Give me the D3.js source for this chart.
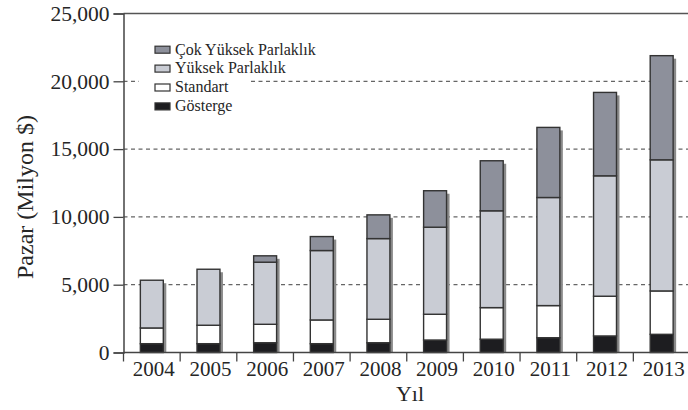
<!DOCTYPE html>
<html>
<head>
<meta charset="utf-8">
<script src="https://cdn.jsdelivr.net/npm/d3@7"></script>
<style>
  html, body { margin: 0; padding: 0; background: #ffffff; }
  svg { display: block; }
</style>
</head>
<body>
<svg id="chart" width="688" height="410"></svg>
<script>
// Market size by display brightness class (million $)
const years = ["2004","2005","2006","2007","2008","2009","2010","2011","2012","2013"];
const gosterge   = [650, 650, 720, 650, 720, 920, 980, 1090, 1220, 1340];
const standart   = [1160, 1360, 1360, 1750, 1730, 1900, 2330, 2370, 2930, 3200];
const yuksek     = [3520, 4130, 4580, 5120, 5950, 6420, 7140, 7970, 8880, 9670];
const cokYuksek  = [0, 0, 470, 1030, 1750, 2690, 3690, 5170, 6150, 7680];
const seriesNames = ["Gösterge", "Standart", "Yüksek Parlaklık", "Çok Yüksek Parlaklık"];
const yTicks = [0, 5000, 10000, 15000, 20000, 25000];

// pick the first installed Times-like family
function pickFont(list) {
  const ctx = document.createElement("canvas").getContext("2d");
  const sample = "Çok Yüksek Parlaklık 25,000 mmmWWiil";
  ctx.font = "40px monospace";
  const base = ctx.measureText(sample).width;
  for (const f of list) {
    ctx.font = `40px "${f}", monospace`;
    if (Math.abs(ctx.measureText(sample).width - base) > 0.5) return `"${f}", serif`;
  }
  return "serif";
}
const serif = pickFont(["Liberation Serif", "Times New Roman", "Tinos", "Nimbus Roman", "DejaVu Serif", "Noto Serif"]);

const colors = {
  "Gösterge": "#1d1d20",
  "Standart": "#ffffff",
  "Yüksek Parlaklık": "#c9ccd4",
  "Çok Yüksek Parlaklık": "#8d909b"
};

const rows = years.map((yr, i) => ({
  year: yr,
  "Gösterge": gosterge[i],
  "Standart": standart[i],
  "Yüksek Parlaklık": yuksek[i],
  "Çok Yüksek Parlaklık": cokYuksek[i]
}));

const svg = d3.select("#chart").attr("font-family", serif);
const mLeft = 123.5, mRight = 690, mTop = 13.5, mBottom = 352.5;
const ink = "#262626";

const x = d3.scaleBand().domain(years).range([mLeft, mRight])
  .paddingInner(0.595).paddingOuter(0.2975);
const y = d3.scaleLinear().domain([0, 25000]).range([mBottom, mTop]);

// gridlines
svg.append("g").selectAll("line")
  .data(yTicks.filter(t => t > 0 && t < 25000))
  .join("line")
  .attr("x1", mLeft).attr("x2", mRight)
  .attr("y1", d => y(d)).attr("y2", d => y(d))
  .attr("stroke", "#666").attr("stroke-width", 1.2)
  .attr("stroke-dasharray", "4,3.5");

// solid top rule
svg.append("line")
  .attr("x1", mLeft).attr("x2", mRight)
  .attr("y1", y(25000)).attr("y2", y(25000))
  .attr("stroke", "#555").attr("stroke-width", 1.5);

// stacked bars
const stack = d3.stack().keys(seriesNames)(rows);
const barG = svg.append("g");
const bw = x.bandwidth();
const total = d => seriesNames.reduce((s, k) => s + d[k], 0);

// drop shadow on the right side of each bar
barG.selectAll("rect.shadow")
  .data(rows)
  .join("rect")
  .attr("class", "shadow")
  .attr("x", d => x(d.year) + bw)
  .attr("width", 3)
  .attr("y", d => y(total(d)) + 3)
  .attr("height", d => mBottom - y(total(d)) - 3)
  .attr("fill", "#8a8a8a");

stack.forEach(layer => {
  barG.append("g").selectAll("rect")
    .data(layer.filter(d => d[1] - d[0] > 0))
    .join("rect")
    .attr("x", d => x(d.data.year))
    .attr("width", bw)
    .attr("y", d => y(d[1]))
    .attr("height", d => y(d[0]) - y(d[1]))
    .attr("fill", colors[layer.key])
    .attr("stroke", "#333")
    .attr("stroke-width", 1.4);
});

// y axis
const yAxis = d3.axisLeft(y).tickValues(yTicks).tickFormat(d3.format(",")).tickSize(10).tickPadding(4);
const yg = svg.append("g").attr("transform", `translate(${mLeft},0)`).call(yAxis);
yg.attr("font-family", serif).attr("font-size", 21.5);
yg.select(".domain").attr("stroke", "#444").attr("stroke-width", 1.5);
yg.selectAll(".tick line").attr("stroke", "#444").attr("stroke-width", 1.3);
yg.selectAll(".tick text").attr("fill", ink);

// x axis: labels in bands, ticks at band boundaries
const xg = svg.append("g");
xg.append("line").attr("x1", mLeft).attr("x2", mRight).attr("y1", mBottom).attr("y2", mBottom)
  .attr("stroke", "#444").attr("stroke-width", 1.5);
const step = x.step();
xg.selectAll("line.xt")
  .data(years)
  .join("line")
  .attr("class", "xt")
  .attr("x1", d => x(d) - x.paddingOuter() * step)
  .attr("x2", d => x(d) - x.paddingOuter() * step)
  .attr("y1", mBottom).attr("y2", mBottom + 9)
  .attr("stroke", "#444").attr("stroke-width", 1.3);
xg.selectAll("text")
  .data(years)
  .join("text")
  .attr("x", d => x(d) + bw / 2 + 2)
  .attr("y", 376)
  .attr("text-anchor", "middle")
  .attr("font-size", 21)
  .attr("fill", ink)
  .text(d => d);

// axis titles
svg.append("text")
  .attr("x", 410).attr("y", 401)
  .attr("text-anchor", "middle")
  .attr("font-size", 22)
  .attr("fill", ink)
  .text("Yıl");
svg.append("text")
  .attr("transform", "translate(33,197) rotate(-90)")
  .attr("text-anchor", "middle")
  .attr("font-size", 24)
  .attr("fill", ink)
  .text("Pazar (Milyon $)");

// legend
const legendItems = seriesNames.slice().reverse();
const lg = svg.append("g").attr("transform", "translate(155,49.7)");
const li = lg.selectAll("g").data(legendItems).join("g")
  .attr("transform", (d, i) => `translate(0,${i * 18.9})`);
li.append("text")
  .attr("x", 20).attr("y", 4.8)
  .attr("font-size", 16)
  .attr("fill", ink)
  .text(d => d)
  .each(function () {
    const w = this.getComputedTextLength();
    d3.select(this.parentNode).insert("rect", "text")
      .attr("x", -16).attr("y", -9).attr("width", w + 20 + 38).attr("height", 19)
      .attr("fill", "#ffffff");
  });
li.append("rect")
  .attr("x", 0).attr("y", -3.5).attr("width", 15).attr("height", 7)
  .attr("fill", d => colors[d])
  .attr("stroke", "#333").attr("stroke-width", 1.2);
</script>
</body>
</html>
